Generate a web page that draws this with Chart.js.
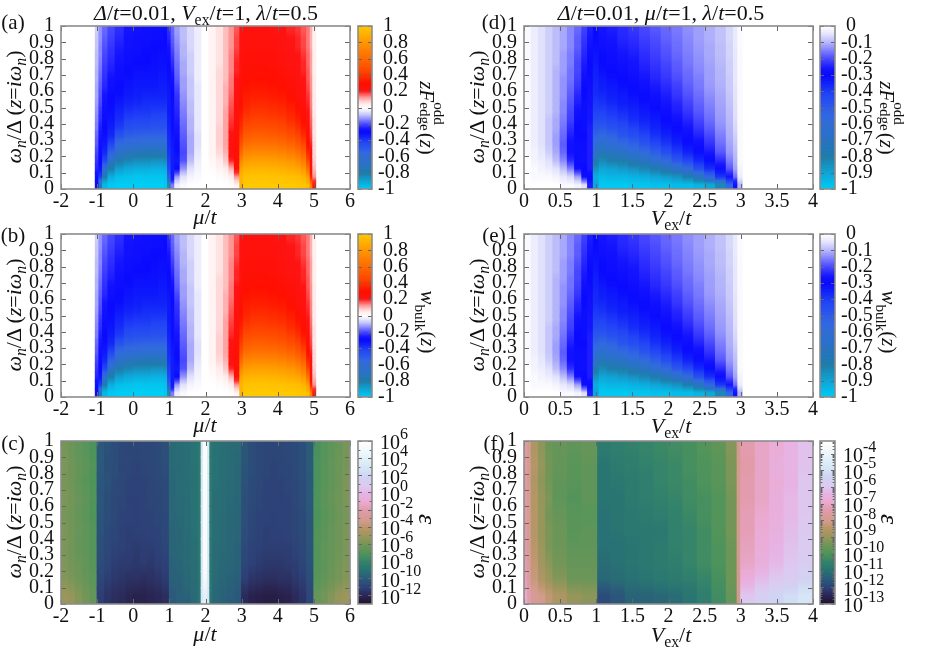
<!DOCTYPE html>
<html>
<head>
<meta charset="utf-8">
<title>Heat maps</title>
<script src="https://cdn.jsdelivr.net/npm/chart.js@4"></script>
<style>
  html, body { margin: 0; padding: 0; background: #fff; }
  #page { position: relative; width: 926px; height: 649px; overflow: hidden; font-family: "Liberation Serif", serif; color: #111; }
  canvas { position: absolute; }
  .lab { position: absolute; white-space: nowrap; line-height: 1; transform: translate(-50%, -50%); }
  .up { transform: translate(-50%, -50%) rotate(-90deg); }
  .down { transform: translate(-50%, -50%) rotate(90deg); }
  sub, sup { font-size: 0.72em; line-height: 0; }
  .stack { display: inline-block; position: relative; width: 2em; height: 1em; }
  .stack span { position: absolute; left: 0; font-size: 0.72em; }
</style>
</head>
<body>
<div id="page"></div>
<script>
// rows top to bottom, each inner array below is one column read top to bottom
var omegaFine = [.975,.925,.875,.825,.775,.725,.675,.625,.575,.525,.475,.425,.375,.325,.275,.225,.175,.125,.075,.025];
var omegaCoarse = [.95,.85,.75,.65,.55,.45,.35,.25,.15,.05];

var muTicks = [-2,-1,0,1,2,3,4,5,6];
var vexTicks = [0,.5,1,1.5,2,2.5,3,3.5,4];
var omegaTicks = [0,.1,.2,.3,.4,.5,.6,.7,.8,.9,1];
var barTicksMu = [1,.8,.6,.4,.2,0,-.2,-.4,-.6,-.8,-1];
var barTicksV = [0,-.1,-.2,-.3,-.4,-.5,-.6,-.7,-.8,-.9,-1];
var epsTicksMu = [6,4,2,0,-2,-4,-6,-8,-10,-12];
var epsTicksV = [-4,-5,-6,-7,-8,-9,-10,-11,-12,-13];

var muEdgesA = [-1.05,-.95,-.85,-.7,-.5,-.25,0,.25,.5,.7,.85,.95,1.05,1.15,1.3,1.5,1.7,1.9,2.1,2.3,2.5,2.65,2.8,2.95,3.05,3.25,3.5,3.75,4,4.25,4.5,4.65,4.8,4.9,4.97,5.05];
var fOddMu = [
[-.07,-.08,-.08,-.09,-.09,-.1,-.1,-.11,-.11,-.12,-.13,-.14,-.15,-.17,-.18,-.2,-.22,-.24,-.28,-.3],
[-.13,-.13,-.14,-.14,-.15,-.16,-.17,-.18,-.19,-.2,-.22,-.23,-.25,-.26,-.28,-.29,-.3,-.32,-.4,-.75],
[-.17,-.18,-.19,-.2,-.21,-.22,-.23,-.24,-.26,-.27,-.28,-.29,-.3,-.31,-.33,-.36,-.42,-.6,-.8,-.95],
[-.2,-.21,-.22,-.23,-.24,-.25,-.27,-.28,-.3,-.3,-.31,-.32,-.34,-.36,-.42,-.52,-.66,-.8,-.92,-.99],
[-.23,-.24,-.25,-.26,-.27,-.28,-.29,-.3,-.31,-.33,-.35,-.37,-.4,-.47,-.56,-.66,-.78,-.88,-.96,-1],
[-.26,-.27,-.27,-.28,-.29,-.3,-.31,-.32,-.33,-.35,-.38,-.41,-.45,-.51,-.6,-.71,-.82,-.91,-.97,-1],
[-.27,-.28,-.28,-.29,-.3,-.31,-.32,-.33,-.34,-.36,-.39,-.42,-.46,-.52,-.61,-.73,-.84,-.92,-.98,-1],
[-.28,-.28,-.29,-.3,-.3,-.31,-.32,-.33,-.35,-.37,-.39,-.42,-.46,-.53,-.62,-.74,-.84,-.92,-.98,-1],
[-.28,-.29,-.3,-.3,-.31,-.31,-.32,-.33,-.35,-.37,-.4,-.43,-.47,-.53,-.62,-.74,-.85,-.93,-.98,-1],
[-.29,-.29,-.3,-.31,-.31,-.32,-.33,-.34,-.35,-.37,-.4,-.43,-.47,-.53,-.62,-.74,-.85,-.93,-.98,-1],
[-.29,-.3,-.3,-.31,-.31,-.32,-.33,-.34,-.35,-.37,-.4,-.43,-.47,-.53,-.62,-.74,-.84,-.92,-.97,-.99],
[-.23,-.24,-.26,-.28,-.3,-.3,-.31,-.32,-.33,-.33,-.33,-.34,-.35,-.36,-.37,-.38,-.4,-.42,-.5,-.85],
[-.17,-.18,-.19,-.21,-.23,-.25,-.27,-.29,-.3,-.31,-.31,-.31,-.31,-.32,-.33,-.34,-.34,-.34,-.33,-.15],
[-.12,-.13,-.14,-.15,-.16,-.17,-.18,-.2,-.22,-.23,-.24,-.25,-.26,-.27,-.29,-.31,-.33,-.3,-.12,-.03],
[-.09,-.09,-.1,-.1,-.11,-.11,-.12,-.12,-.13,-.14,-.15,-.16,-.17,-.18,-.19,-.2,-.19,-.13,-.05,-.01],
[-.06,-.06,-.06,-.07,-.07,-.07,-.08,-.08,-.08,-.09,-.09,-.1,-.1,-.11,-.11,-.11,-.09,-.05,-.02,0],
[-.03,-.03,-.03,-.03,-.03,-.03,-.03,-.04,-.04,-.04,-.04,-.04,-.04,-.05,-.05,-.04,-.03,-.02,-.01,0],
[0,0,0,0,0,0,0,0,0,0,0,0,0,0,0,0,0,0,0,0],
[.03,.03,.03,.03,.03,.03,.03,.03,.03,.03,.03,.03,.03,.03,.03,.03,.02,.01,0,0],
[.06,.06,.06,.06,.06,.07,.07,.07,.07,.07,.07,.07,.08,.08,.08,.07,.05,.03,.01,0],
[.1,.1,.1,.1,.1,.1,.1,.11,.11,.11,.12,.12,.12,.12,.12,.11,.09,.05,.02,0],
[.13,.13,.13,.14,.14,.14,.15,.15,.16,.17,.18,.19,.2,.22,.24,.24,.2,.11,.04,.01],
[.17,.18,.18,.19,.2,.2,.21,.22,.23,.24,.25,.25,.26,.27,.27,.28,.3,.26,.13,.03],
[.22,.23,.23,.24,.24,.25,.26,.27,.28,.3,.32,.35,.38,.43,.5,.6,.72,.85,.92,.9],
[.25,.25,.25,.26,.27,.28,.29,.31,.33,.35,.38,.42,.47,.54,.62,.72,.82,.91,.97,1],
[.24,.25,.25,.26,.27,.28,.3,.32,.34,.37,.4,.44,.49,.56,.64,.74,.84,.92,.98,1],
[.24,.25,.25,.26,.27,.28,.3,.32,.34,.37,.4,.44,.49,.56,.64,.74,.84,.92,.98,1],
[.23,.24,.25,.26,.26,.28,.29,.31,.33,.36,.39,.43,.48,.55,.63,.73,.83,.91,.97,1],
[.22,.23,.23,.24,.25,.26,.28,.3,.32,.35,.38,.42,.46,.53,.61,.71,.82,.9,.97,1],
[.2,.21,.21,.22,.23,.24,.26,.27,.29,.32,.35,.38,.43,.49,.58,.68,.79,.88,.96,1],
[.19,.2,.2,.21,.21,.22,.23,.25,.26,.28,.31,.34,.39,.45,.53,.63,.75,.86,.95,.99],
[.17,.18,.18,.19,.2,.2,.21,.22,.23,.25,.27,.29,.33,.38,.46,.56,.68,.8,.92,.98],
[.15,.15,.15,.16,.16,.17,.17,.18,.19,.2,.21,.23,.26,.27,.3,.36,.46,.62,.82,.95],
[.11,.11,.11,.12,.12,.12,.13,.13,.14,.14,.15,.16,.17,.18,.2,.22,.24,.27,.35,.7],
[.04,.04,.04,.04,.04,.04,.05,.05,.05,.05,.05,.06,.06,.06,.07,.07,.08,.1,.13,.25]
];
// panel (b) reads the same as (a) at this resolution, (e) the same as (d)
var wBulkMu = fOddMu;

var vexEdgesD = [0,.1,.2,.3,.4,.5,.6,.7,.8,.88,.96,1.04,1.15,1.3,1.45,1.6,1.75,1.9,2.05,2.2,2.35,2.5,2.65,2.8,2.9,2.96,3.02];
var fOddV = [
[-.01,-.01,-.01,-.01,-.01,-.01,-.01,-.01,-.01,-.01,-.01,-.01,-.01,-.01,-.01,-.01,0,0,0,0],
[-.03,-.03,-.03,-.03,-.03,-.03,-.03,-.03,-.03,-.03,-.03,-.03,-.03,-.03,-.03,-.02,-.02,-.01,-.01,0],
[-.05,-.05,-.05,-.05,-.05,-.05,-.05,-.05,-.05,-.05,-.05,-.05,-.05,-.05,-.05,-.04,-.03,-.02,-.01,0],
[-.07,-.07,-.07,-.07,-.07,-.07,-.07,-.07,-.07,-.07,-.07,-.08,-.08,-.08,-.08,-.07,-.05,-.03,-.01,0],
[-.09,-.09,-.09,-.09,-.09,-.1,-.1,-.1,-.1,-.1,-.1,-.11,-.11,-.12,-.12,-.11,-.09,-.05,-.02,0],
[-.11,-.11,-.11,-.12,-.12,-.12,-.13,-.13,-.13,-.14,-.14,-.15,-.16,-.17,-.18,-.17,-.14,-.09,-.04,-.01],
[-.14,-.14,-.14,-.15,-.15,-.16,-.16,-.17,-.18,-.19,-.2,-.21,-.23,-.25,-.27,-.27,-.23,-.15,-.06,-.01],
[-.17,-.18,-.18,-.19,-.2,-.2,-.21,-.22,-.24,-.25,-.27,-.29,-.3,-.3,-.31,-.31,-.31,-.27,-.12,-.02],
[-.21,-.22,-.23,-.24,-.25,-.26,-.28,-.3,-.3,-.31,-.31,-.31,-.31,-.3,-.29,-.28,-.28,-.3,-.28,-.05],
[-.25,-.26,-.27,-.29,-.3,-.3,-.29,-.28,-.27,-.27,-.26,-.26,-.25,-.25,-.25,-.25,-.25,-.25,-.3,-.25],
[-.3,-.3,-.31,-.32,-.33,-.34,-.35,-.36,-.37,-.39,-.41,-.44,-.48,-.53,-.59,-.67,-.76,-.85,-.92,-.9],
[-.26,-.27,-.28,-.3,-.3,-.31,-.33,-.34,-.36,-.38,-.41,-.44,-.49,-.56,-.65,-.74,-.83,-.9,-.95,-.99],
[-.25,-.26,-.27,-.28,-.29,-.3,-.31,-.33,-.34,-.36,-.39,-.42,-.46,-.53,-.61,-.71,-.8,-.89,-.94,-.99],
[-.235,-.24,-.25,-.26,-.275,-.29,-.3,-.31,-.33,-.34,-.37,-.4,-.44,-.48,-.57,-.67,-.78,-.87,-.94,-.99],
[-.22,-.23,-.24,-.25,-.26,-.27,-.285,-.3,-.31,-.33,-.35,-.37,-.41,-.45,-.52,-.62,-.74,-.85,-.93,-.98],
[-.2,-.21,-.22,-.23,-.24,-.25,-.26,-.28,-.295,-.31,-.33,-.35,-.38,-.42,-.47,-.57,-.7,-.82,-.92,-.98],
[-.185,-.195,-.2,-.21,-.22,-.23,-.24,-.255,-.27,-.29,-.31,-.33,-.35,-.38,-.43,-.51,-.63,-.78,-.9,-.97],
[-.17,-.175,-.185,-.19,-.2,-.21,-.22,-.235,-.25,-.26,-.285,-.3,-.32,-.35,-.39,-.45,-.56,-.73,-.88,-.97],
[-.155,-.16,-.165,-.17,-.18,-.185,-.195,-.21,-.22,-.24,-.25,-.27,-.295,-.32,-.35,-.4,-.48,-.65,-.85,-.96],
[-.135,-.14,-.145,-.15,-.155,-.165,-.17,-.18,-.19,-.205,-.22,-.24,-.26,-.285,-.31,-.35,-.42,-.57,-.8,-.96],
[-.12,-.12,-.125,-.13,-.135,-.14,-.15,-.155,-.165,-.175,-.185,-.2,-.22,-.245,-.275,-.31,-.36,-.45,-.7,-.94],
[-.105,-.105,-.11,-.11,-.115,-.12,-.12,-.125,-.135,-.145,-.155,-.165,-.18,-.2,-.225,-.255,-.305,-.37,-.55,-.91],
[-.085,-.085,-.09,-.09,-.095,-.1,-.1,-.105,-.11,-.115,-.12,-.125,-.135,-.15,-.165,-.185,-.23,-.285,-.39,-.83],
[-.06,-.06,-.065,-.065,-.07,-.07,-.075,-.075,-.08,-.085,-.09,-.095,-.1,-.105,-.115,-.125,-.15,-.185,-.265,-.55],
[-.035,-.035,-.035,-.04,-.04,-.04,-.04,-.045,-.045,-.05,-.05,-.055,-.06,-.07,-.08,-.09,-.1,-.115,-.16,-.32],
[-.01,-.01,-.01,-.01,-.01,-.01,-.01,-.01,-.01,-.01,-.01,-.01,-.01,-.01,-.01,-.01,-.01,-.02,-.03,-.1]
];
var wBulkV = fOddV;

// log10 of epsilon
var muEdgesC = [-2,-1.8,-1.6,-1.4,-1.2,-1,-.8,-.6,-.4,-.2,0,.2,.4,.6,.8,1,1.2,1.4,1.6,1.8,1.88,1.94,2.06,2.12,2.2,2.4,2.6,2.8,3,3.2,3.4,3.6,3.8,4,4.2,4.4,4.6,4.8,5,5.2,5.4,5.6,5.8,6];
var epsMu = [
[-5.9,-5.8,-5.9,-5.8,-5.9,-5.8,-5.8,-5.7,-5.6,-5],
[-6.2,-6.1,-6.1,-6,-6.1,-6,-6,-6,-5.8,-5.2],
[-6.5,-6.4,-6.5,-6.3,-6.4,-6.3,-6.4,-6.2,-6.1,-5.6],
[-6.8,-6.7,-6.8,-6.6,-6.7,-6.6,-6.6,-6.5,-6.4,-6],
[-7.2,-7,-7.1,-7,-7.1,-6.9,-6.9,-6.8,-6.7,-6.4],
[-10.1,-10.1,-10.2,-10.2,-10.3,-10.4,-10.5,-10.6,-10.9,-11.2],
[-10.4,-10.5,-10.4,-10.6,-10.6,-10.7,-10.8,-10.9,-11.2,-11.5],
[-10.6,-10.6,-10.7,-10.8,-10.8,-10.9,-11,-11.2,-11.4,-11.7],
[-10.8,-10.9,-10.8,-10.9,-11,-11.1,-11.1,-11.3,-11.5,-11.8],
[-10.9,-10.9,-11,-11.1,-11,-11.2,-11.2,-11.3,-11.6,-12],
[-10.9,-11,-11,-11.1,-11.1,-11.1,-11.3,-11.4,-11.6,-12.1],
[-10.8,-10.9,-11,-11,-11,-11.1,-11.2,-11.3,-11.7,-12.1],
[-10.8,-10.8,-10.9,-10.9,-11,-11,-11.2,-11.4,-11.6,-12],
[-10.7,-10.7,-10.8,-10.9,-10.9,-11,-11.1,-11.2,-11.5,-11.9],
[-10.5,-10.6,-10.7,-10.7,-10.8,-10.8,-10.9,-11.1,-11.3,-11.7],
[-9.4,-9.4,-9.5,-9.5,-9.5,-9.6,-9.6,-9.7,-9.8,-10],
[-9.3,-9.4,-9.3,-9.4,-9.4,-9.5,-9.5,-9.6,-9.7,-9.8],
[-9.2,-9.2,-9.2,-9.3,-9.3,-9.3,-9.4,-9.4,-9.5,-9.7],
[-9,-9,-9.1,-9,-9.1,-9.1,-9.2,-9.2,-9.3,-9.4],
[-8.6,-8.6,-8.6,-8.6,-8.7,-8.6,-8.7,-8.7,-8.8,-8.8],
[3,3,3,3,3,3,3,3,3,3],
[5.5,5.5,5.5,5.5,5.5,5.5,5.5,5.5,5,3.8],
[3,3,3,3,3,3,3,3,3,3],
[-8.6,-8.6,-8.7,-8.6,-8.7,-8.7,-8.7,-8.8,-8.8,-8.9],
[-9.1,-9.1,-9.1,-9.2,-9.2,-9.2,-9.3,-9.3,-9.4,-9.5],
[-9.2,-9.2,-9.3,-9.3,-9.3,-9.4,-9.4,-9.5,-9.6,-9.7],
[-9.3,-9.3,-9.4,-9.4,-9.5,-9.5,-9.5,-9.6,-9.7,-9.9],
[-9.4,-9.5,-9.5,-9.5,-9.6,-9.6,-9.7,-9.7,-9.9,-10.1],
[-10.3,-10.3,-10.4,-10.5,-10.5,-10.6,-10.7,-10.9,-11.2,-11.8],
[-10.6,-10.6,-10.7,-10.7,-10.8,-10.9,-11,-11.1,-11.5,-12.1],
[-10.8,-10.8,-10.8,-10.9,-11,-11,-11.1,-11.3,-11.6,-12.2],
[-10.9,-10.9,-11,-11,-11,-11.2,-11.2,-11.4,-11.7,-12.3],
[-10.9,-11,-11,-11,-11.1,-11.1,-11.2,-11.4,-11.7,-12.3],
[-10.9,-10.9,-11,-11.1,-11,-11.1,-11.2,-11.4,-11.6,-12.2],
[-10.8,-10.9,-10.9,-11,-11,-11,-11.2,-11.3,-11.6,-12.1],
[-10.7,-10.7,-10.8,-10.8,-10.9,-10.9,-11,-11.2,-11.4,-11.8],
[-10.5,-10.5,-10.6,-10.6,-10.7,-10.7,-10.8,-10.9,-11.2,-11.5],
[-10,-10,-10.1,-10.1,-10.2,-10.2,-10.3,-10.4,-10.6,-10.9],
[-7.3,-7.2,-7.2,-7.1,-7.2,-7,-7,-6.9,-6.8,-6.4],
[-6.9,-6.8,-6.8,-6.7,-6.8,-6.7,-6.6,-6.6,-6.5,-6],
[-6.6,-6.5,-6.5,-6.4,-6.5,-6.4,-6.4,-6.3,-6.2,-5.6],
[-6.3,-6.2,-6.2,-6.1,-6.2,-6.1,-6.1,-6,-5.9,-5.2],
[-5.9,-5.9,-5.8,-5.8,-5.9,-5.8,-5.8,-5.7,-5.6,-5]
];

var vexEdgesF = [0,.05,.1,.2,.3,.4,.6,.8,1.02,1.2,1.4,1.6,1.8,2,2.2,2.4,2.6,2.8,2.95,3,3.2,3.4,3.6,3.8,4];
var epsV = [
[-7.5,-7.5,-7.5,-7.4,-7.5,-7.4,-7.4,-7.3,-7.2,-6.9],
[-7.9,-7.9,-7.9,-7.8,-7.9,-7.8,-7.8,-7.7,-7.6,-7.3],
[-8.6,-8.5,-8.6,-8.5,-8.5,-8.5,-8.4,-8.3,-8.2,-7.8],
[-9.1,-9,-9.1,-9,-9,-9,-8.9,-8.8,-8.6,-8],
[-9.5,-9.4,-9.4,-9.3,-9.4,-9.3,-9.3,-9.1,-8.9,-8.3],
[-9.6,-9.6,-9.7,-9.7,-9.6,-9.5,-9.5,-9.4,-9.2,-8.6],
[-9.7,-9.8,-9.8,-9.9,-9.8,-9.8,-9.7,-9.6,-9.5,-9],
[-9.6,-9.7,-9.7,-9.7,-9.8,-9.7,-9.7,-9.6,-9.5,-9.1],
[-10.7,-10.9,-10.9,-10.9,-11,-11,-11,-11.1,-11.2,-11.8],
[-10.6,-10.7,-10.8,-10.9,-10.9,-10.9,-11,-11,-11.1,-11.6],
[-10.5,-10.6,-10.7,-10.7,-10.8,-10.8,-10.9,-10.9,-11,-11.3],
[-10.4,-10.5,-10.6,-10.6,-10.7,-10.8,-10.8,-10.8,-10.9,-11.3],
[-10.3,-10.4,-10.4,-10.5,-10.6,-10.8,-10.7,-10.7,-10.8,-11.2],
[-10.2,-10.3,-10.3,-10.4,-10.5,-10.5,-10.5,-10.6,-10.7,-11.1],
[-10.1,-10.1,-10.2,-10.2,-10.3,-10.4,-10.4,-10.4,-10.6,-10.9],
[-9.9,-10,-10,-10.1,-10.1,-10.2,-10.2,-10.2,-10.4,-10.6],
[-9.7,-9.8,-9.8,-9.9,-9.9,-9.9,-10,-10,-10.1,-10.2],
[-9.2,-9.3,-9.3,-9.4,-9.4,-9.4,-9.5,-9.5,-9.5,-9.6],
[-8,-8,-8,-8,-8,-8,-8,-8,-8,-8],
[-7.3,-7.4,-7.3,-7.3,-7.2,-7.2,-7.1,-7,-6.6,-6],
[-7,-7,-7,-7,-6.9,-6.8,-6.7,-6.6,-6.2,-5.6],
[-6.7,-6.6,-6.7,-6.6,-6.6,-6.5,-6.4,-6.3,-5.9,-5.3],
[-6.4,-6.4,-6.4,-6.3,-6.3,-6.2,-6.1,-6,-5.7,-5.1],
[-6.1,-6.1,-6,-6,-6,-5.9,-5.8,-5.7,-5.4,-4.8]
];

// colour maps
var divStops = [[-1,0,205,245],[-.9,15,165,215],[-.8,30,125,170],[-.7,40,115,195],[-.55,50,105,225],[-.42,35,70,245],[-.34,15,30,250],[-.3,10,10,255],[-.26,20,20,255],[-.2,70,70,255],[-.15,125,125,255],[-.1,180,180,250],[-.05,225,225,252],[0,255,255,255],[.05,255,235,235],[.1,255,190,190],[.15,255,120,120],[.21,255,20,20],[.3,255,15,0],[.45,255,70,0],[.6,255,105,0],[.8,255,150,0],[1,255,200,0]];
var helixStops = [[0,30,20,40],[.03,38,28,65],[.05,42,35,80],[.1,45,65,120],[.16,42,92,122],[.21,40,115,115],[.26,50,130,108],[.31,78,148,90],[.37,115,150,88],[.41,150,150,90],[.47,185,150,105],[.51,210,155,140],[.58,225,155,170],[.63,235,170,210],[.68,230,180,228],[.72,222,200,240],[.79,208,212,243],[.82,210,225,245],[.89,225,240,248],[.92,235,245,250],[1,255,255,255]];

function lookup(stops, v) {
  if (v <= stops[0][0]) return 'rgb(' + stops[0].slice(1).join(',') + ')';
  for (var i = 1; i < stops.length; i++) {
    if (v <= stops[i][0]) {
      var a = stops[i - 1], b = stops[i], f = (v - a[0]) / (b[0] - a[0]);
      return 'rgb(' + Math.round(a[1] + (b[1] - a[1]) * f) + ',' + Math.round(a[2] + (b[2] - a[2]) * f) + ',' + Math.round(a[3] + (b[3] - a[3]) * f) + ')';
    }
  }
  return 'rgb(' + stops[stops.length - 1].slice(1).join(',') + ')';
}

function fmt(v) { return String(+v.toFixed(2)); }

var tickFont = { family: '"Liberation Serif"', size: 20 };
var frameColor = '#8c8c8c';

// inward ticks and the box, gnuplot style
var framePlugin = {
  id: 'frame',
  afterDatasetsDraw: function(chart) {
    var ctx = chart.ctx, a = chart.chartArea, x = chart.scales.x, y = chart.scales.y;
    var len = chart.options.plugins.frame.tickLen;
    ctx.save();
    ctx.strokeStyle = '#666';
    ctx.lineWidth = 1;
    ctx.beginPath();
    if (x.options.display !== false) {
      x.ticks.forEach(function(t) {
        var px = Math.round(x.getPixelForValue(t.value)) + .5;
        ctx.moveTo(px, a.bottom); ctx.lineTo(px, a.bottom - len);
        ctx.moveTo(px, a.top); ctx.lineTo(px, a.top + len);
      });
    }
    y.ticks.forEach(function(t) {
      var py = Math.round(y.getPixelForValue(t.value)) + .5;
      ctx.moveTo(a.left, py); ctx.lineTo(a.left + len, py);
      ctx.moveTo(a.right, py); ctx.lineTo(a.right - len, py);
    });
    (chart.options.plugins.frame.minor || []).forEach(function(v) {
      if (v > y.max || v < y.min) return;
      var py = Math.round(y.getPixelForValue(v)) + .5;
      ctx.moveTo(a.left, py); ctx.lineTo(a.left + len * .6, py);
      ctx.moveTo(a.right, py); ctx.lineTo(a.right - len * .6, py);
    });
    ctx.stroke();
    ctx.strokeStyle = frameColor;
    ctx.lineWidth = 1.6;
    ctx.strokeRect(a.left, a.top, a.right - a.left, a.bottom - a.top);
    ctx.restore();
  }
};

// 10 with a raised exponent, canvas ticks can't do that by themselves
var powerLabels = {
  id: 'powerLabels',
  afterDraw: function(chart) {
    var o = chart.options.plugins.powerLabels;
    if (!o.on) return;
    var ctx = chart.ctx, y = chart.scales.y, left = chart.chartArea.right + o.gap;
    ctx.save();
    ctx.fillStyle = '#111';
    ctx.textBaseline = 'middle';
    ctx.textAlign = 'left';
    y.ticks.forEach(function(t) {
      var py = y.getPixelForValue(t.value) + o.shift;
      ctx.font = '20px "Liberation Serif"';
      ctx.fillText('10', left, py);
      ctx.font = '16px "Liberation Serif"';
      ctx.fillText(String(t.value), left + 20, py - 9);
    });
    ctx.restore();
  }
};

var page = document.getElementById('page');

function addCanvas(left, top, w, h) {
  var c = document.createElement('canvas');
  c.width = w; c.height = h;
  c.style.left = left + 'px';
  c.style.top = top + 'px';
  c.style.width = w + 'px';
  c.style.height = h + 'px';
  page.appendChild(c);
  return c;
}

function heatCells(edges, rows, cols) {
  var out = [];
  var half = Math.abs(rows[0] - rows[1]) / 2;
  cols.forEach(function(col, j) {
    col.forEach(function(v, i) {
      // shade each cell towards its upper and lower neighbour, like pm3d does
      var above = i > 0 ? (col[i - 1] + v) / 2 : v;
      var below = i < col.length - 1 ? (col[i + 1] + v) / 2 : v;
      out.push({ y: rows[i], x: [edges[j], edges[j + 1]], v: v, above: above, below: below, half: half });
    });
  });
  return out;
}

function heatmap(box, xMin, xMax, xTicks, edges, rows, cols, colorOf) {
  var padTop = 24, padRight = 14, axisLeft = 61, axisBottom = 30;
  var canvas = addCanvas(box.x - axisLeft, box.y - padTop, box.w + axisLeft + padRight, box.h + padTop + axisBottom);
  return new Chart(canvas, {
    type: 'bar',
    data: { datasets: [{
      data: heatCells(edges, rows, cols),
      backgroundColor: function(c) {
        var r = c.raw, ys = c.chart.scales.y;
        if (!r) return '#fff';
        var y0 = ys.getPixelForValue(r.y + r.half), y1 = ys.getPixelForValue(r.y - r.half);
        // scales aren't laid out on the first pass through here
        if (!isFinite(y0) || !isFinite(y1)) return colorOf(r.v);
        var g = c.chart.ctx.createLinearGradient(0, y0, 0, y1);
        g.addColorStop(0, colorOf(r.above));
        g.addColorStop(.5, colorOf(r.v));
        g.addColorStop(1, colorOf(r.below));
        return g;
      },
      barPercentage: 1, categoryPercentage: 1, inflateAmount: .5, borderWidth: 0
    }] },
    options: {
      indexAxis: 'y', responsive: false, animation: false,
      layout: { padding: { top: padTop, right: padRight, left: 0, bottom: 0 } },
      plugins: { legend: { display: false }, tooltip: { enabled: false }, frame: { tickLen: 5 }, powerLabels: { on: false } },
      scales: {
        x: { type: 'linear', min: xMin, max: xMax, grid: { display: false, drawTicks: false }, border: { display: false },
          afterBuildTicks: function(s) { s.ticks = xTicks.map(function(v) { return { value: v }; }); },
          afterFit: function(s) { s.height = axisBottom; },
          ticks: { font: tickFont, color: '#111', padding: 1, maxRotation: 0, autoSkip: false, callback: fmt } },
        y: { type: 'linear', offset: false, min: 0, max: 1, grid: { display: false, drawTicks: false, offset: false }, border: { display: false },
          afterBuildTicks: function(s) { s.ticks = omegaTicks.map(function(v) { return { value: v }; }); },
          afterFit: function(s) { s.width = axisLeft; },
          ticks: { font: tickFont, color: '#111', padding: 7, autoSkip: false, callback: fmt } }
      }
    },
    plugins: [framePlugin, powerLabels]
  });
}

function colorbar(box, yMin, yMax, ticks, colorOf, power, minor) {
  var padTop = 24, padLeft = 2, axisW = 64, padBottom = 18;
  var canvas = addCanvas(box.x - padLeft, box.y - padTop, box.w + padLeft + axisW, box.h + padTop + padBottom);
  // the colour ramp itself, one thin bar per level
  var levels = [], n = 120;
  for (var i = 0; i < n; i++) levels.push({ y: yMin + (yMax - yMin) * (i + .5) / n, x: [0, 1] });
  return new Chart(canvas, {
    type: 'bar',
    data: { datasets: [{
      data: levels,
      backgroundColor: function(c) { return c.raw ? colorOf(c.raw.y) : '#fff'; },
      barPercentage: 1, categoryPercentage: 1, inflateAmount: .5, borderWidth: 0
    }] },
    options: {
      indexAxis: 'y', responsive: false, animation: false,
      layout: { padding: { top: padTop, left: padLeft, right: 0, bottom: padBottom } },
      plugins: { legend: { display: false }, tooltip: { enabled: false }, frame: { tickLen: 4, minor: minor },
        powerLabels: { on: power, gap: 8, shift: 3 } },
      scales: {
        x: { type: 'linear', display: false, min: 0, max: 1 },
        y: { type: 'linear', offset: false, position: 'right', min: yMin, max: yMax, grid: { display: false, drawTicks: false, offset: false }, border: { display: false },
          afterBuildTicks: function(s) { s.ticks = ticks.map(function(v) { return { value: v }; }); },
          afterFit: function(s) { s.width = axisW; },
          ticks: { display: !power, font: tickFont, color: '#111', padding: 6, crossAlign: 'near', autoSkip: false,
            callback: function(v) { return v < 0 ? fmt(v) : '\u00a0' + fmt(v); } } }
      }
    },
    plugins: [framePlugin, powerLabels]
  });
}

function divColor(v) { return lookup(divStops, v); }
function epsColorMu(v) { return lookup(helixStops, (v + 13) / 19); }
function epsColorV(v) { return lookup(helixStops, (v + 13) / 9.75); }

var leftX = 61, rightX = 524, plotW = 289, plotH = 163;
var rowA = 26, rowB = 234, rowC = 441;

heatmap({ x: leftX, y: rowA, w: plotW, h: plotH }, -2, 6, muTicks, muEdgesA, omegaFine, fOddMu, divColor);
heatmap({ x: leftX, y: rowB, w: plotW, h: plotH }, -2, 6, muTicks, muEdgesA, omegaFine, wBulkMu, divColor);
heatmap({ x: leftX, y: rowC, w: plotW, h: plotH }, -2, 6, muTicks, muEdgesC, omegaCoarse, epsMu, epsColorMu);
heatmap({ x: rightX, y: rowA, w: plotW, h: plotH }, 0, 4, vexTicks, vexEdgesD, omegaFine, fOddV, divColor);
heatmap({ x: rightX, y: rowB, w: plotW, h: plotH }, 0, 4, vexTicks, vexEdgesD, omegaFine, wBulkV, divColor);
heatmap({ x: rightX, y: rowC, w: plotW, h: plotH }, 0, 4, vexTicks, vexEdgesF, omegaCoarse, epsV, epsColorV);

// gnuplot puts the sub-ticks at odd decades on (c), log spaced ones on (f)
var minorMu = [5,3,1,-1,-3,-5,-7,-9,-11];
var minorV = [];
[-4,-5,-6,-7,-8,-9,-10,-11,-12,-13].forEach(function(d) {
  [.301,.477,.602,.699,.778,.845,.903,.954].forEach(function(m) { minorV.push(d + m); });
});

var cbLeft = 358, cbRight = 820, cbW = 14;
colorbar({ x: cbLeft, y: rowA, w: cbW, h: plotH }, -1, 1, barTicksMu, divColor, false);
colorbar({ x: cbLeft, y: rowB, w: cbW, h: plotH }, -1, 1, barTicksMu, divColor, false);
colorbar({ x: cbLeft, y: rowC, w: cbW, h: plotH }, -13, 6, epsTicksMu, epsColorMu, true, minorMu);
colorbar({ x: cbRight, y: rowA, w: cbW + 1, h: plotH }, -1, 0, barTicksV, divColor, false);
colorbar({ x: cbRight, y: rowB, w: cbW + 1, h: plotH }, -1, 0, barTicksV, divColor, false);
colorbar({ x: cbRight, y: rowC, w: cbW + 1, h: plotH }, -13, -3.25, epsTicksV, epsColorV, true, minorV);

// text that needs sub/superscripts is plain HTML
function label(html, x, y, size, cls) {
  var d = document.createElement('div');
  d.className = 'lab' + (cls ? ' ' + cls : '');
  d.style.left = x + 'px';
  d.style.top = y + 'px';
  d.style.fontSize = size + 'px';
  d.innerHTML = html;
  page.appendChild(d);
}

var yTitle = '<i>\u03c9<sub>n</sub></i>/\u0394 (<i>z</i>=<i>i\u03c9<sub>n</sub></i>)';
var zF = '<i>zF</i><span class="stack"><span style="top:-.35em">odd</span><span style="top:.6em">edge</span></span><span style="margin-left:-.55em">(<i>z</i>)</span>';
var wB = '<i>w</i><sub>bulk</sub>(<i>z</i>)';

label('<i>\u0394</i>/<i>t</i>=0.01, <i>V</i><sub>ex</sub>/<i>t</i>=1, <i>\u03bb</i>/<i>t</i>=0.5', 206, 13, 22);
label('<i>\u0394</i>/<i>t</i>=0.01, <i>\u03bc</i>/<i>t</i>=1, <i>\u03bb</i>/<i>t</i>=0.5', 661, 13, 22);

[['(a)', 13, 22], ['(b)', 13, 235], ['(c)', 13, 443], ['(d)', 494, 22], ['(e)', 494, 235], ['(f)', 494, 443]].forEach(function(p) {
  label(p[0], p[1], p[2], 21);
});

[rowA, rowB, rowC].forEach(function(top) {
  label(yTitle, 14, top + 81, 22, 'up');
  label(yTitle, 477, top + 81, 22, 'up');
});

label('<i>\u03bc</i>/<i>t</i>', 205, 217, 22);
label('<i>\u03bc</i>/<i>t</i>', 205, 425, 22);
label('<i>\u03bc</i>/<i>t</i>', 205, 634, 22);
label('<i>V</i><sub>ex</sub>/<i>t</i>', 671, 218, 22);
label('<i>V</i><sub>ex</sub>/<i>t</i>', 671, 426, 22);
label('<i>V</i><sub>ex</sub>/<i>t</i>', 671, 635, 22);

label(zF, 428, 118, 21, 'down');
label(wB, 427, 322, 21, 'down');
label('<i>\u03b5</i>', 427, 519, 26, 'down');
label(zF, 888, 118, 21, 'down');
label(wB, 888, 322, 21, 'down');
label('<i>\u03b5</i>', 889, 519, 26, 'down');
</script>
</body>
</html>
